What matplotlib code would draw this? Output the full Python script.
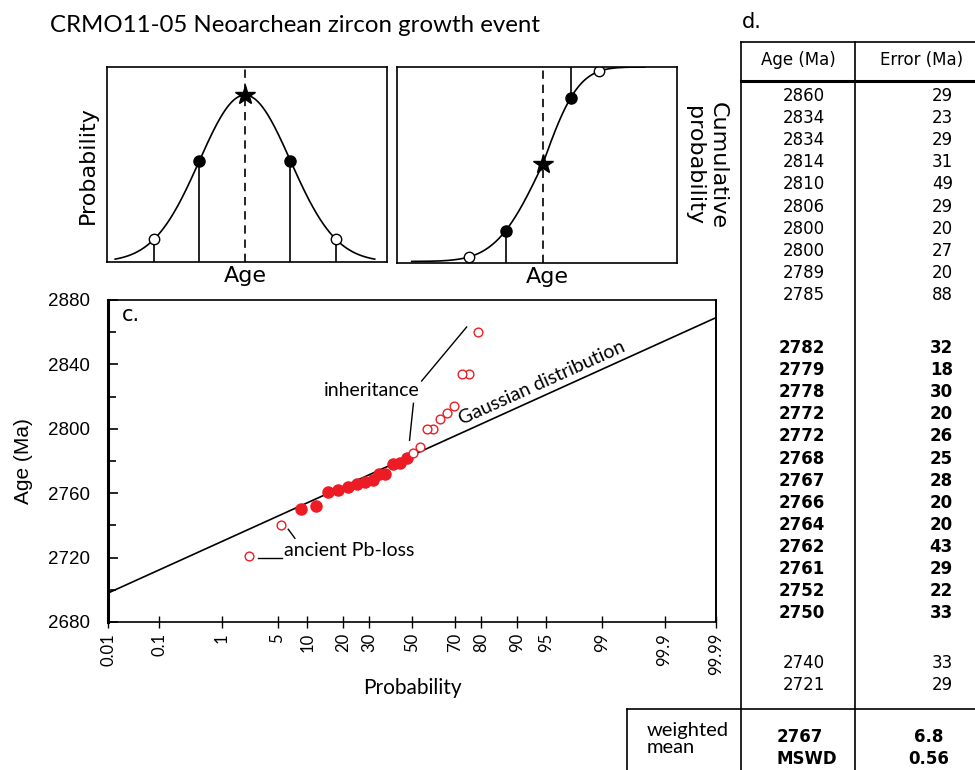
import numpy as np
import matplotlib
matplotlib.use("Agg")
import matplotlib.pyplot as plt
from matplotlib.ticker import MultipleLocator, NullLocator
from statistics import NormalDist

# ---- panel c / table data (table order, oldest first) ----
inherit_age = [2860, 2834, 2834, 2814, 2810, 2806, 2800, 2800, 2789, 2785]
inherit_err = [29, 23, 29, 31, 49, 29, 20, 27, 20, 88]
inherit_prob = [78.9, 75.8, 72.8, 69.6, 66.5, 63.4, 60.3, 57.1, 53.9, 50.6]

main_age = [2782, 2779, 2778, 2772, 2772, 2768, 2767, 2766, 2764, 2762, 2761, 2752, 2750]
main_err = [32, 18, 30, 20, 26, 25, 28, 20, 20, 43, 29, 22, 33]
main_prob = [47.4, 44.0, 41.0, 37.0, 34.5, 31.5, 28.3, 24.9, 21.8, 18.4, 15.1, 12.0, 8.7]

pbloss_age = [2740, 2721]
pbloss_err = [33, 29]
pbloss_prob = [5.5, 2.3]

wmean_age = "2767"
wmean_err = "6.8"
mswd = "0.56"

# reference gaussian line in panel c
gauss_mean = 2783.5
gauss_sd = 23.0

prob_ticks = [0.01, 0.1, 1, 5, 10, 20, 30, 50, 70, 80, 90, 95, 99, 99.9, 99.99]
prob_labels = ["0.01", "0.1", "1", "5", "10", "20", "30", "50", "70", "80",
               "90", "95", "99", "99.9", "99.99"]
age_ticks = [2680, 2720, 2760, 2800, 2840, 2880]

# schematic panels a/b: marked positions in sigma units
sig_filled = [-1, 1]
sig_open = [-2, 2]

RED = "#ED1C24"
W, H = 975, 770
MYRIAD = "Lato"

nd = NormalDist()
_ppf = np.vectorize(nd.inv_cdf, otypes=[float])
_cdf = np.vectorize(nd.cdf, otypes=[float])


def prob_fwd(p):
    p = np.clip(np.asarray(p, dtype=float) / 100.0, 1e-12, 1 - 1e-12)
    return _ppf(p)


def prob_inv(z):
    return _cdf(np.asarray(z, dtype=float)) * 100.0


def pdf(v):
    v = np.asarray(v, dtype=float)
    return np.exp(-v ** 2 / 2)


# panel b curve is drawn a bit steeper on the old side, like the sketch
SIG_L, SIG_R = 37.0, 28.0


def b_x(z):
    z = np.asarray(z, dtype=float)
    return np.where(z < 0, z * SIG_L, z * SIG_R)


def b_cdf(x):
    x = np.asarray(x, dtype=float)
    return _cdf(np.where(x < 0, x / SIG_L, x / SIG_R))


fig = plt.figure(figsize=(W / 100, H / 100), dpi=100)
over = fig.add_axes([0, 0, 1, 1])
over.set_xlim(0, W)
over.set_ylim(H, 0)
over.axis("off")


def px_axes(l, t, r, b):
    return fig.add_axes([l / W, 1 - b / H, (r - l) / W, (b - t) / H])


def bare(ax):
    ax.set_xticks([])
    ax.set_yticks([])
    for s in ax.spines.values():
        s.set_linewidth(1.2)


# title
over.text(50, 25, "CRMO11-05 Neoarchean zircon growth event", fontsize=17.3,
          family=MYRIAD, va="center", ha="left")

# ---- panel a: probability density ----
ax_a = px_axes(107, 67, 387, 262)
xs = np.linspace(-2.85, 2.85, 400)
ax_a.plot(xs, pdf(xs), color="k", lw=1.2)
marks = sig_filled + sig_open
ax_a.vlines(marks, 0, pdf(marks), color="k", lw=1.2)
ax_a.axvline(0, color="k", lw=1.2, ls=(0, (5, 3.5)))
ax_a.plot(sig_filled, pdf(sig_filled), "o", color="k", ms=8)
ax_a.plot(sig_open, pdf(sig_open), "o", mfc="white", mec="k", ms=7.5, mew=1)
ax_a.plot([0], pdf([0]), "*", color="k", ms=15)
ax_a.set_xlim(-3.03, 3.12)
ax_a.set_ylim(0, 1.168)
bare(ax_a)
over.text(117, 87, "a.", fontsize=15, va="center")
over.text(88, 165, "Probability", fontsize=16, rotation=90, ha="center", va="center")
over.text(245, 276, "Age", fontsize=16, ha="center", va="center")

# ---- panel b: cumulative probability ----
ax_b = px_axes(397, 67, 677, 263)
xs = np.linspace(-131, 102, 400)
ax_b.plot(xs, b_cdf(xs), color="k", lw=1.2)
low = b_x([sig_open[0], sig_filled[0]])
high = b_x([sig_filled[1], sig_open[1]])
ax_b.vlines(low, -0.008, b_cdf(low), color="k", lw=1.2)
ax_b.vlines(high, b_cdf(high), 1.0, color="k", lw=1.2)
ax_b.axvline(0, color="k", lw=1.2, ls=(0, (5, 3.5)))
ax_b.plot(b_x(sig_filled), b_cdf(b_x(sig_filled)), "o", color="k", ms=8)
ax_b.plot(b_x(sig_open), b_cdf(b_x(sig_open)), "o", mfc="white", mec="k",
          ms=7.5, mew=1)
ax_b.plot([0], b_cdf([0]), "*", color="k", ms=15)
ax_b.set_xlim(-145.7, 134.3)
ax_b.set_ylim(-0.008, 1.0)
bare(ax_b)
over.text(405, 85, "b.", fontsize=15, va="center")
over.text(547, 277, "Age", fontsize=16, ha="center", va="center")
over.text(706, 166, "Cumulative\nprobability", fontsize=16, rotation=270,
          ha="center", va="center", multialignment="center")

# ---- panel c: probability plot ----
ax_c = px_axes(108, 300, 716, 622)
ax_c.set_xscale("function", functions=(prob_fwd, prob_inv))
ax_c.set_xlim(0.01, 99.99)
ax_c.set_ylim(2680, 2880)

line_p = np.array([0.01, 99.99])
ax_c.plot(line_p, gauss_mean + gauss_sd * prob_fwd(line_p), color="k", lw=1.2)
ax_c.plot(main_prob, main_age, "o", color=RED, mec=RED, ms=8, zorder=3)
ax_c.plot(inherit_prob + pbloss_prob, inherit_age + pbloss_age, "o",
          mfc="white", mec=RED, ms=6.3, mew=1, zorder=3)

ax_c.set_xticks(prob_ticks)
ax_c.set_xticklabels(prob_labels, rotation=90, family=MYRIAD, fontsize=12)
ax_c.xaxis.set_minor_locator(NullLocator())
ax_c.tick_params(axis="x", direction="inout", length=8, width=1, pad=4)
ax_c.set_yticks(age_ticks)
ax_c.yaxis.set_minor_locator(MultipleLocator(20))
ax_c.tick_params(axis="y", which="both", direction="in", width=1.2, pad=13,
                 labelsize=13.5, labelfontfamily="Liberation Sans")
ax_c.tick_params(axis="y", which="major", length=7)
ax_c.tick_params(axis="y", which="minor", length=6)
ax_c.spines["left"].set_linewidth(2.2)
ax_c.spines["bottom"].set_linewidth(1.2)
ax_c.spines["top"].set_linewidth(1.2)
ax_c.spines["right"].set_linewidth(1.4)

ax_c.set_xlabel("Probability", family=MYRIAD, fontsize=15)
ax_c.xaxis.set_label_coords(0.5, -0.174)
ax_c.set_ylabel("Age (Ma)", family="Liberation Sans", fontsize=15)
ax_c.yaxis.set_label_coords(-0.123, 0.5)

ax_c.text(0.023, 0.953, "c.", transform=ax_c.transAxes, fontsize=15, va="center")
ax_c.text(31.2, 2823.5, "inheritance", ha="center", va="center",
          family=MYRIAD, fontsize=14)
ax_c.plot([54.7, 74.8], [2829.7, 2863.2], color="k", lw=1)
ax_c.plot([50.7, 48.8], [2815.8, 2792.9], color="k", lw=1)
ax_c.text(5.8, 2724.5, "ancient Pb-loss", ha="left", va="center",
          family=MYRIAD, fontsize=14)
ax_c.plot([6.5, 7.6], [2737.6, 2732.0], color="k", lw=1)
ax_c.plot([3.0, 5.54], [2720, 2720], color="k", lw=1)
ax_c.text(72.98, 2802.4, "Gaussian distribution", rotation=24.3,
          rotation_mode="anchor", ha="left", va="baseline",
          family=MYRIAD, fontsize=14)

# ---- table d ----
tbl_l, tbl_m, tbl_r = 741, 855, 975
tbl_top, head_bot, foot_top, foot_l = 42, 81, 709, 627
over.text(742, 22, "d.", fontsize=15, va="center")
over.plot([tbl_l, tbl_r], [tbl_top, tbl_top], color="k", lw=1.2)
over.plot([tbl_l, tbl_r], [head_bot, head_bot], color="k", lw=2.2)
over.plot([tbl_l, tbl_l], [tbl_top, H], color="k", lw=1.2)
over.plot([tbl_m, tbl_m], [tbl_top, H], color="k", lw=1.2)
over.plot([foot_l, tbl_r], [foot_top, foot_top], color="k", lw=1.2)
over.plot([foot_l, foot_l], [foot_top, H], color="k", lw=1.2)

over.text(798, 60, "Age (Ma)", fontsize=12, ha="center", va="center")
over.text(922, 60, "Error (Ma)", fontsize=12, ha="center", va="center")

age_x, err_x, pitch = 825, 953, 22.1
groups = [(inherit_age, inherit_err, 96, "normal"),
          (main_age, main_err, 348, "bold"),
          (pbloss_age, pbloss_err, 663, "normal")]
for ages, errs, y0, weight in groups:
    for i, (a, e) in enumerate(zip(ages, errs)):
        y = y0 + i * pitch
        over.text(age_x, y, str(a), fontsize=12, ha="right", va="center", weight=weight)
        over.text(err_x, y, str(e), fontsize=12, ha="right", va="center", weight=weight)

over.text(647, 739, "weighted\nmean", fontsize=14.5, family=MYRIAD, ha="left",
          va="center", linespacing=1.0)
over.text(777, 737, wmean_age, fontsize=12, weight="bold", ha="left", va="center")
over.text(777, 759, "MSWD", fontsize=12, weight="bold", ha="left", va="center")
over.text(929, 737, wmean_err, fontsize=12, weight="bold", ha="center", va="center")
over.text(929, 759, mswd, fontsize=12, weight="bold", ha="center", va="center")

fig.savefig("out.png", dpi=100)
